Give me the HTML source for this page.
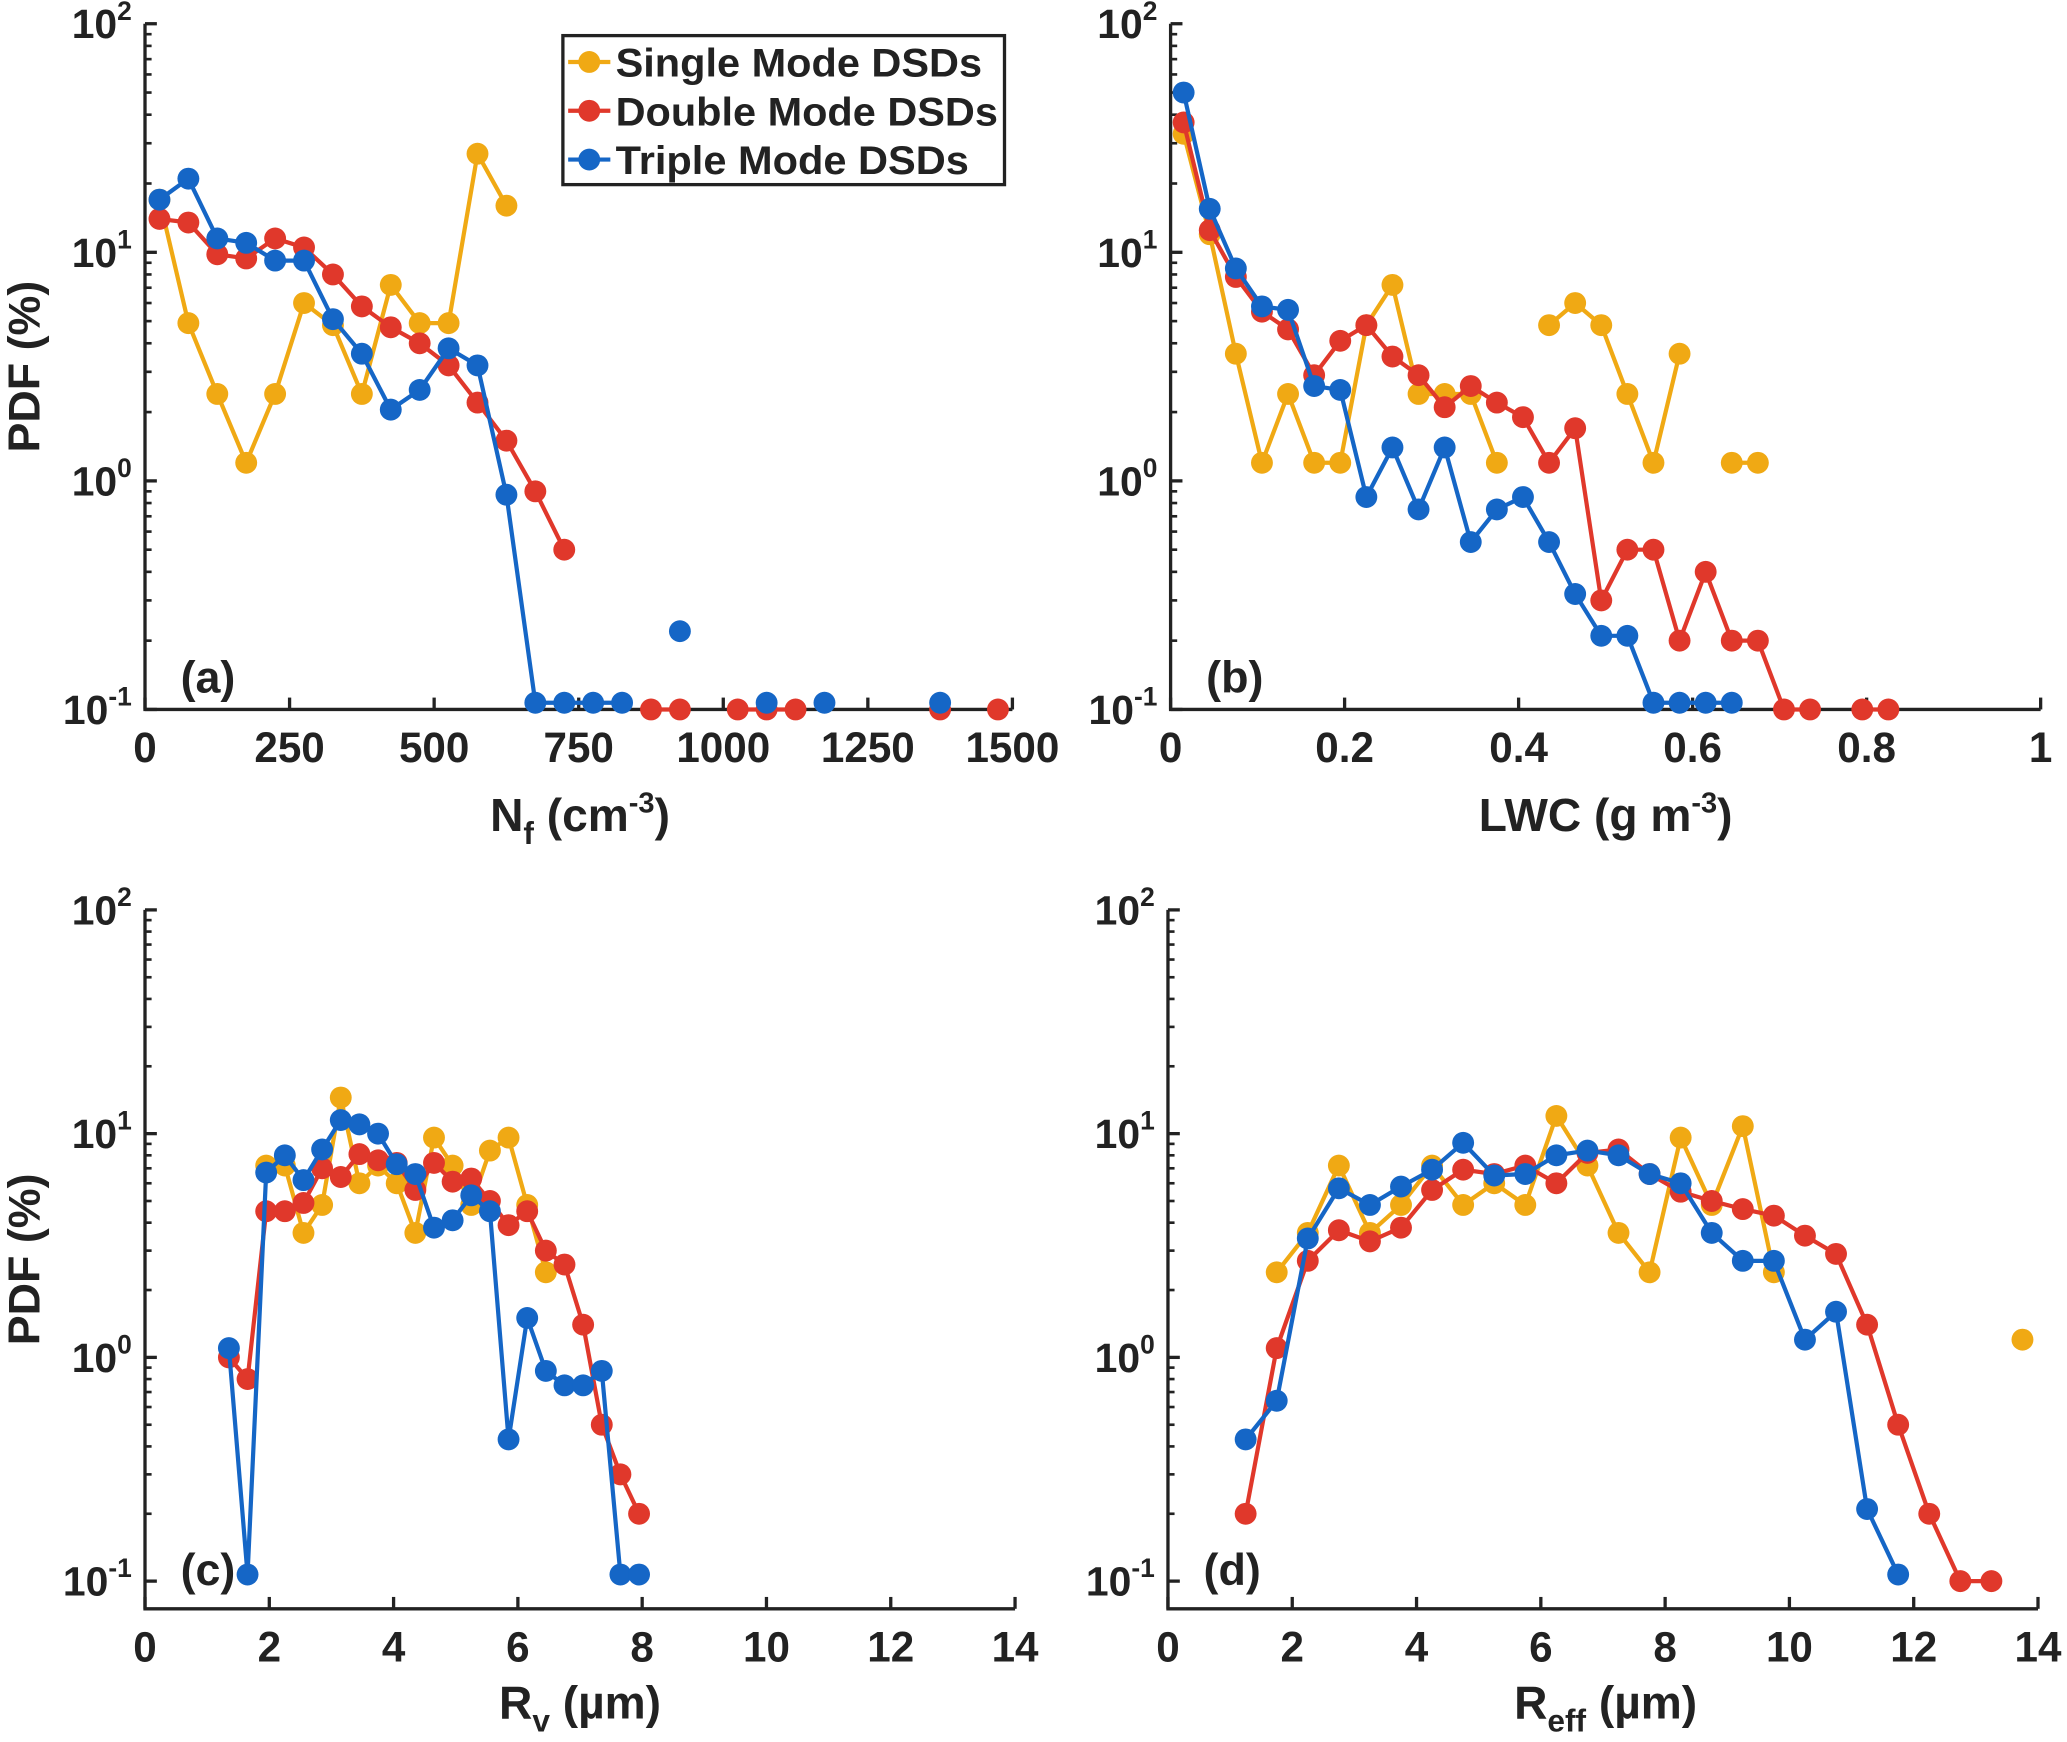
<!DOCTYPE html>
<html><head><meta charset="utf-8"><style>
html,body{margin:0;padding:0;background:#fff}
svg{display:block}
text{font-family:"Liberation Sans",Arial,sans-serif;font-weight:bold;fill:#222}
</style></head><body>
<svg id="fig" width="2067" height="1742" viewBox="0 0 1568 1321" preserveAspectRatio="none" xmlns="http://www.w3.org/2000/svg"></svg>
<script>
// ---- data (null = gap) ----
const aX = [25,75,125,175,225,275,325,375,425,475,525,575,625,675,725,775,825,875,925,975,1025,1075,1125,1175,1225,1275,1325,1375,1425,1475];
const aSingle = [17,4.9,2.4,1.2,2.4,6,4.8,2.4,7.2,4.9,4.9,27,16,null,null,null,null,null,null,null,null,null,null,null,null,null,null,null,null,null];
const aDouble = [14,13.5,9.8,9.4,11.5,10.5,8,5.8,4.7,4,3.2,2.2,1.5,0.9,0.5,null,null,0.1,0.1,null,0.1,0.1,0.1,null,null,null,null,0.1,null,0.1];
const aTriple = [17,21,11.5,11,9.2,9.2,5.1,3.6,2.05,2.5,3.8,3.2,0.87,0.107,0.107,0.107,0.107,null,0.22,null,null,0.107,null,0.107,null,null,null,0.107,null,null];

const bX = [0.015,0.045,0.075,0.105,0.135,0.165,0.195,0.225,0.255,0.285,0.315,0.345,0.375,0.405,0.435,0.465,0.495,0.525,0.555,0.585,0.615,0.645,0.675,0.705,0.735,0.765,0.795,0.825];
const bSingle = [33,12,3.6,1.2,2.4,1.2,1.2,4.8,7.2,2.4,2.4,2.4,1.2,null,4.8,6,4.8,2.4,1.2,3.6,null,1.2,1.2,null,null,null,null,null];
const bDouble = [37,12.5,7.8,5.5,4.6,2.9,4.1,4.8,3.5,2.9,2.1,2.6,2.2,1.9,1.2,1.7,0.3,0.5,0.5,0.2,0.4,0.2,0.2,0.1,0.1,null,0.1,0.1];
const bTriple = [50,15.5,8.5,5.8,5.6,2.6,2.5,0.85,1.4,0.75,1.4,0.54,0.75,0.85,0.54,0.32,0.21,0.21,0.107,0.107,0.107,0.107,null,null,null,null,null,null];

const cX = [1.35,1.65,1.95,2.25,2.55,2.85,3.15,3.45,3.75,4.05,4.35,4.65,4.95,5.25,5.55,5.85,6.15,6.45,6.75,7.05,7.35,7.65,7.95];
const cSingle = [null,null,7.2,7.2,3.6,4.8,14.5,6,7.2,6,3.6,9.6,7.2,4.8,8.4,9.6,4.8,2.4,null,null,null,null,null];
const cDouble = [1.0,0.8,4.5,4.5,4.9,7,6.4,8.1,7.6,7.4,5.6,7.4,6.1,6.3,5,3.9,4.5,3,2.6,1.4,0.5,0.3,0.2];
const cTriple = [1.1,0.107,6.7,8,6.2,8.5,11.5,11,10,7.3,6.6,3.8,4.1,5.3,4.5,0.43,1.5,0.87,0.75,0.75,0.87,0.107,0.107];

const dX = [1.25,1.75,2.25,2.75,3.25,3.75,4.25,4.75,5.25,5.75,6.25,6.75,7.25,7.75,8.25,8.75,9.25,9.75,10.25,10.75,11.25,11.75,12.25,12.75,13.25,13.75];
const dSingle = [null,2.4,3.6,7.2,3.6,4.8,7.2,4.8,6,4.8,12,7.2,3.6,2.4,9.6,4.8,10.8,2.4,null,null,null,null,null,null,null,1.2];
const dDouble = [0.2,1.1,2.7,3.7,3.3,3.8,5.6,6.9,6.6,7.2,6,8.2,8.5,6.6,5.5,5,4.6,4.3,3.5,2.9,1.4,0.5,0.2,0.1,0.1,null];
const dTriple = [0.43,0.64,3.4,5.7,4.8,5.8,6.9,9.1,6.5,6.6,8,8.4,8,6.6,6,3.6,2.7,2.7,1.2,1.6,0.21,0.107,null,null,null,null];

const aTicks = ["0","250","500","750","1000","1250","1500"];
const bTicks = ["0","0.2","0.4","0.6","0.8","1"];
const cdTicks = ["0","2","4","6","8","10","12","14"];

const COLORS = {single:"#F0A914", double:"#E0382B", triple:"#1566C6"};
const NS = "http://www.w3.org/2000/svg";
const svg = document.getElementById('fig');
function mk(tag, attrs, parent){const e=document.createElementNS(NS,tag);for(const k in attrs)e.setAttribute(k,attrs[k]);(parent||svg).appendChild(e);return e;}

function panel(p){
  const g = mk('g',{});
  
  
  const sx = v => p.x0 + (v - p.xmin)/(p.xmax - p.xmin)*(p.x1 - p.x0);
  const sy = v => p.yTop + (2 - Math.log10(v))/3*(p.yBot - p.yTop);
  const ax = mk('path',{d:`M${p.x0},${p.yTop} L${p.x0},${p.axisY} L${p.x1},${p.axisY}`,fill:'none',stroke:'#222','stroke-width':2.5},g);
  
  
  for(let d=-1; d<=2; d++){
    const y = sy(Math.pow(10,d));
    mk('line',{x1:p.x0,y1:y,x2:p.x0+9,y2:y,stroke:'#222','stroke-width':2.5},g);
    const t = mk('text',{x:p.x0-10,y:y+11,'font-size':31,'text-anchor':'end'},g);
    
    
    t.innerHTML = '10<tspan dy="-14" font-size="20">'+d+'</tspan>';
    if(d<2) for(let m=2;m<=9;m++){
      const ym = sy(m*Math.pow(10,d));
      mk('line',{x1:p.x0,y1:ym,x2:p.x0+5,y2:ym,stroke:'#222','stroke-width':2},g);
    }
  }
  p.ticks.forEach((lab,i)=>{
    const v = p.xmin + i*(p.xmax-p.xmin)/(p.ticks.length-1);
    const x = sx(v);
    mk('line',{x1:x,y1:p.axisY,x2:x,y2:p.axisY-9,stroke:'#222','stroke-width':2.5},g);
    const t = mk('text',{x:x,y:p.axisY+40,'font-size':32,'text-anchor':'middle'},g);
    
    
    t.textContent = lab;
  });
  const xt = mk('text',{x:p.titleX,y:p.axisY+p.titleDy,'font-size':35,'text-anchor':'middle'},g);
  
  
  xt.innerHTML = p.title;
  if(p.ylabel){
    const cy=(p.yTop+p.axisY)/2;
    const yt = mk('text',{x:0,y:0,'font-size':34,'text-anchor':'middle',transform:`translate(30,${cy}) rotate(-90)`},g);
    
    
    yt.textContent = 'PDF (%)';
  }
  const pl = mk('text',{x:p.x0+27,y:p.axisY-p.labelUp,'font-size':34},g);
  
  
  pl.textContent = '('+p.id+')';
  [['single',p.s],['double',p.d],['triple',p.t]].forEach(([key,vals])=>{
    const sg = mk('g',{},g);
    
    
    let seg=[];
    const flush=()=>{ if(seg.length>1){ const l=mk('polyline',{points:seg.join(' '),fill:'none',stroke:COLORS[key],'stroke-width':3.2,'stroke-linejoin':'round'},sg);   } seg=[]; };
    vals.forEach((v,i)=>{ if(v==null){flush();return;} seg.push(sx(p.xs[i])+','+sy(v)); });
    flush();
    vals.forEach((v,i)=>{ if(v==null) return;
      const c=mk('circle',{cx:sx(p.xs[i]),cy:sy(v),r:8.3,fill:COLORS[key]},sg);
      
      
    });
  });
}

panel({id:'a',x0:110,x1:768,xmin:0,xmax:1500,yTop:18,yBot:538,axisY:538,labelUp:13,ticks:aTicks,titleDy:92,title:'N<tspan dy="10" font-size="24">f</tspan><tspan dy="-10"> (cm</tspan><tspan dy="-14" font-size="22">-3</tspan><tspan dy="14">)</tspan>',titleX:440,ylabel:true,xs:aX,s:aSingle,d:aDouble,t:aTriple});
panel({id:'b',x0:888,x1:1548,xmin:0,xmax:1,yTop:18,yBot:538,axisY:538,labelUp:13,ticks:bTicks,titleDy:92,title:'LWC (g m<tspan dy="-14" font-size="22">-3</tspan><tspan dy="14">)</tspan>',titleX:1218,ylabel:false,xs:bX,s:bSingle,d:bDouble,t:bTriple});
panel({id:'c',x0:110,x1:770,xmin:0,xmax:14,yTop:690,yBot:1199,axisY:1220,labelUp:18,ticks:cdTicks,titleDy:83,title:'R<tspan dy="10" font-size="24">v</tspan><tspan dy="-10"> (µm)</tspan>',titleX:440,ylabel:true,xs:cX,s:cSingle,d:cDouble,t:cTriple});
panel({id:'d',x0:886,x1:1546,xmin:0,xmax:14,yTop:690,yBot:1199,axisY:1220,labelUp:18,ticks:cdTicks,titleDy:83,title:'R<tspan dy="10" font-size="24">eff</tspan><tspan dy="-10"> (µm)</tspan>',titleX:1218,ylabel:false,xs:dX,s:dSingle,d:dDouble,t:dTriple});

const lg = mk('g',{});


mk('rect',{x:427,y:27,width:335,height:113,fill:'#fff',stroke:'#222','stroke-width':2.5},lg);
[['single','Single Mode DSDs',47,278],['double','Double Mode DSDs',84,290],['triple','Triple Mode DSDs',121,268]].forEach(([k,label,y,w])=>{
  const e = mk('g',{},lg);
  
  
  mk('line',{x1:431,y1:y,x2:463,y2:y,stroke:COLORS[k],'stroke-width':3.2},e);
  mk('circle',{cx:447,cy:y,r:8.3,fill:COLORS[k]},e);
  const t=mk('text',{x:467,y:y+11,'font-size':30,textLength:w,lengthAdjust:'spacingAndGlyphs'},e);
  t.textContent=label;
});
</script>
</body></html>
